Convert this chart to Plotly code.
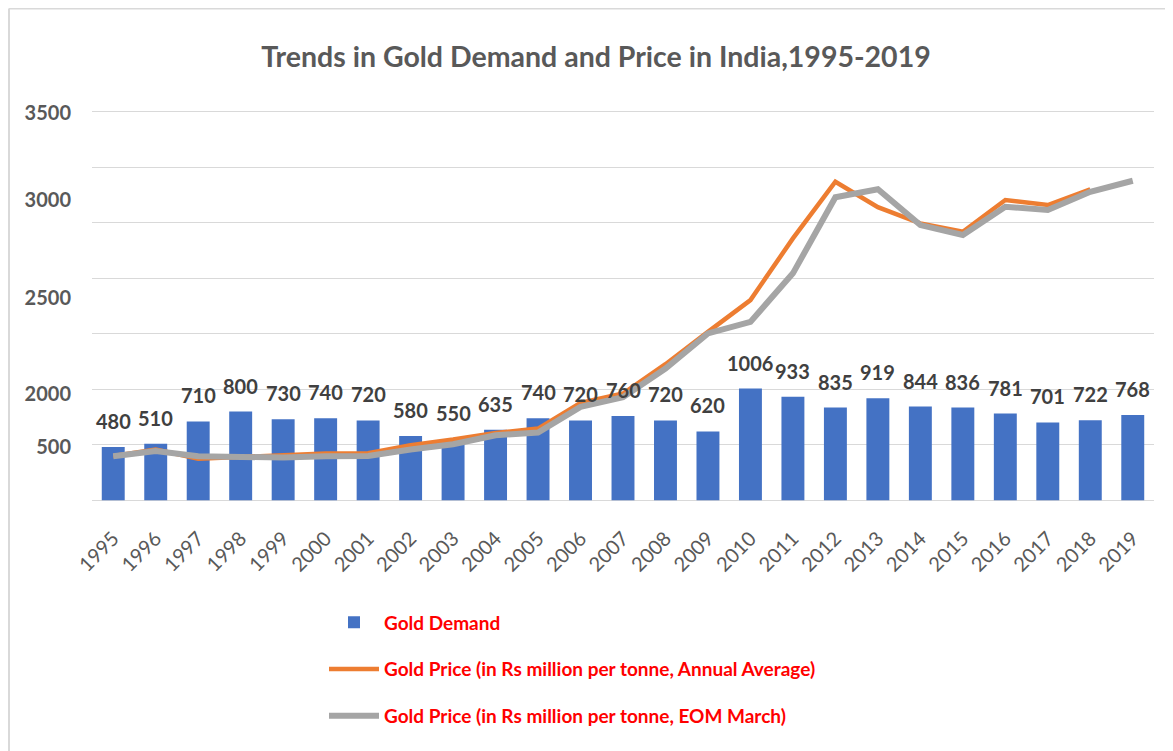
import plotly.graph_objects as go

# ---- data ----
years = ["1995", "1996", "1997", "1998", "1999", "2000", "2001", "2002", "2003", "2004",
         "2005", "2006", "2007", "2008", "2009", "2010", "2011", "2012", "2013", "2014",
         "2015", "2016", "2017", "2018", "2019"]

gold_demand = [480, 510, 710, 800, 730, 740, 720, 580, 550, 635,
               740, 720, 760, 720, 620, 1006, 933, 835, 919, 844,
               836, 781, 701, 722, 768]

# price lines, in the chart's own (pictured) vertical units
price_annual_avg = [400, 457, 375, 391, 397, 421, 425, 496, 547, 607,
                    646, 877, 962, 1226, 1517, 1803, 2359, 2869, 2640, 2494,
                    2419, 2704, 2659, 2801, None]
price_eom_march = [397, 445, 397, 385, 385, 397, 400, 457, 505, 586,
                   610, 841, 928, 1187, 1503, 1607, 2044, 2729, 2801, 2479,
                   2389, 2644, 2614, 2779, 2878]

# y-axis tick labels as they appear on the picture
ytick_text = ["500", "2000", "2500", "3000", "3500"]
ytick_vals = [480, 961, 1818, 2705, 3484]

series_names = ["Gold Demand",
                "Gold Price (in Rs million per tonne, Annual Average)",
                "Gold Price (in Rs million per tonne, EOM March)"]

# ---- styling ----
# the page places the figure 8px in from the top-left corner
OFF = 8
W, H = 1173 - OFF, 751 - OFF
Y_MAX = 3500
EDGE = 15                      # small range padding so end gridlines are drawn
PX_PER_UNIT = 388 / Y_MAX
ML, MR = 92 - OFF, 19
MT = 112 - OFF - EDGE * PX_PER_UNIT
MB = 251 - EDGE * PX_PER_UNIT
BLUE, ORANGE, GRAY = "#4472C4", "#ED7D31", "#A5A5A5"
FONT = "Lato, 'Open Sans', sans-serif"

fig = go.Figure()
fig.add_trace(go.Bar(x=years, y=gold_demand, name=series_names[0],
                     marker=dict(color=BLUE, line=dict(width=0)),
                     legendgroup="g1"))
fig.add_trace(go.Scatter(x=years, y=price_annual_avg, name=series_names[1],
                         mode="lines", line=dict(color=ORANGE, width=4.5),
                         legendgroup="g2"))
fig.add_trace(go.Scatter(x=years, y=price_eom_march, name=series_names[2],
                         mode="lines", line=dict(color=GRAY, width=6),
                         legendgroup="g3"))

annotations = []
for i, v in enumerate(gold_demand):
    annotations.append(dict(x=i, y=v, xref="x", yref="y", text=str(v),
                            showarrow=False, yanchor="middle", yshift=26,
                            font=dict(family=FONT, size=20, color="#404040", weight="bold")))

pw = W - ML - MR
ph = H - MT - MB
shapes = [
    dict(type="line", xref="paper", yref="paper",
         x0=(1 - ML) / pw, x1=(W - ML) / pw,
         y0=(H - MB - 1) / ph, y1=(H - MB - 1) / ph,
         line=dict(color="#D9D9D9", width=2)),
    dict(type="line", xref="paper", yref="paper",
         x0=(1 - ML) / pw, x1=(1 - ML) / pw,
         y0=(H - MB - 1) / ph, y1=-(MB) / ph,
         line=dict(color="#D9D9D9", width=2)),
]

fig.update_layout(
    width=W, height=H,
    margin=dict(l=ML, r=MR, t=MT, b=MB, pad=0),
    paper_bgcolor="white", plot_bgcolor="white",
    bargap=0.46,
    font=dict(family=FONT, color="#595959"),
    title=dict(text="Trends in Gold Demand and Price in India,1995-2019",
               x=(596 - OFF - ML) / pw, xref="paper", xanchor="center",
               y=1 - (57 - OFF) / H, yref="container", yanchor="middle",
               font=dict(family=FONT, size=28.5, color="#595959", weight="bold")),
    xaxis=dict(type="category", range=[-0.5, len(years) - 0.5],
               tickangle=-45, showgrid=False, zeroline=False,
               showline=False, ticks="", ticklabelstandoff=20,
               tickfont=dict(family=FONT, size=20, color="#595959")),
    yaxis=dict(range=[-EDGE, Y_MAX + EDGE], tickmode="array",
               tickvals=ytick_vals, ticktext=ytick_text,
               showgrid=False, zeroline=False, showline=False, ticks="",
               ticklabelstandoff=20,
               tickfont=dict(family=FONT, size=20, color="#595959", weight="bold"),
               minor=dict(tickmode="linear", tick0=0, dtick=500, showgrid=True,
                          gridcolor="#D9D9D9", gridwidth=1.3, ticks="")),
    legend=dict(orientation="v", x=(324 - OFF - ML) / pw, xanchor="left",
                y=-(603 - OFF - (H - MB)) / ph, yanchor="top",
                traceorder="grouped", tracegroupgap=19, itemwidth=50,
                font=dict(family=FONT, size=19, color="#FF0000", weight="bold"),
                bgcolor="rgba(0,0,0,0)"),
    showlegend=True,
    annotations=annotations,
    shapes=shapes,
)

fig.write_html("out.html")
